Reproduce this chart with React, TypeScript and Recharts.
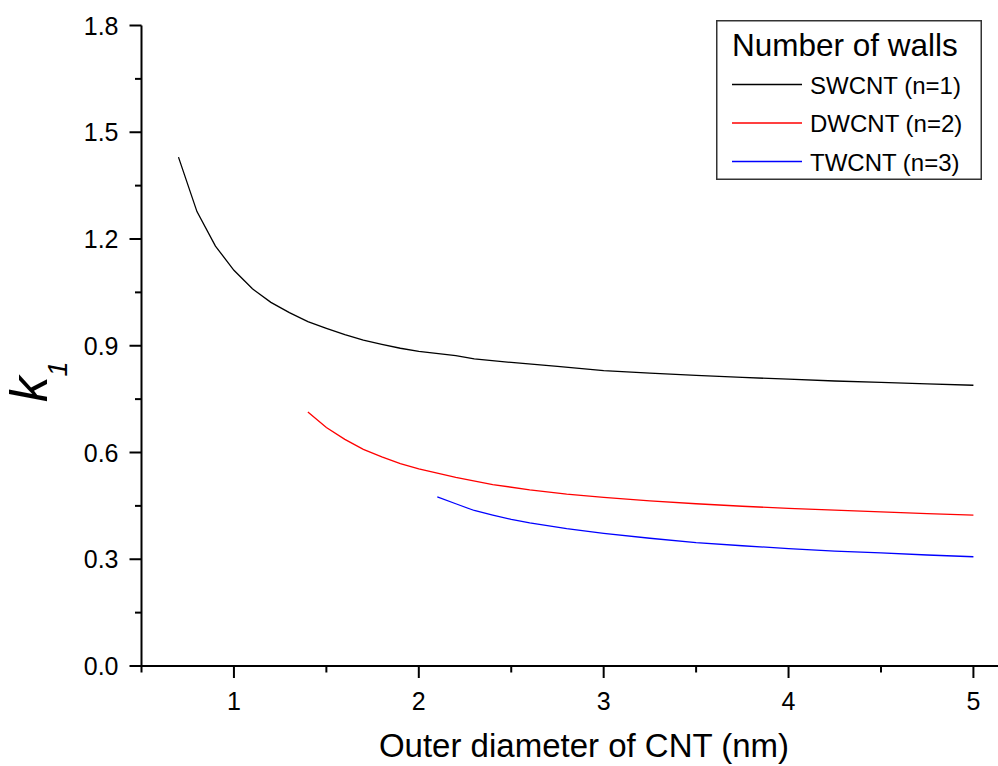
import React from 'react';
import { LineChart, Line, XAxis, YAxis, Legend } from 'recharts';

const swcntD = [0.7, 0.8, 0.9, 1.0, 1.1, 1.2, 1.3, 1.4, 1.5, 1.6, 1.7, 1.8, 1.9, 2.0, 2.2, 2.3, 2.5, 2.75, 3.0, 3.25, 3.5, 3.75, 4.0, 4.25, 4.5, 4.75, 5.0];
const swcntK = [1.43, 1.277, 1.18, 1.112, 1.06, 1.022, 0.993, 0.968, 0.949, 0.931, 0.916, 0.904, 0.893, 0.884, 0.872, 0.863, 0.853, 0.842, 0.83, 0.823, 0.817, 0.811, 0.806, 0.801, 0.797, 0.793, 0.789];

const dwcntD = [1.4, 1.5, 1.6, 1.7, 1.8, 1.9, 2.0, 2.2, 2.4, 2.6, 2.8, 3.0, 3.25, 3.5, 3.75, 4.0, 4.25, 4.5, 4.75, 5.0];
const dwcntK = [0.714, 0.67, 0.637, 0.609, 0.588, 0.569, 0.554, 0.53, 0.51, 0.495, 0.483, 0.474, 0.464, 0.456, 0.449, 0.443, 0.438, 0.433, 0.428, 0.424];

const twcntD = [2.1, 2.2, 2.3, 2.4, 2.5, 2.6, 2.8, 3.0, 3.25, 3.5, 3.75, 4.0, 4.25, 4.5, 4.75, 5.0];
const twcntK = [0.475, 0.456, 0.437, 0.424, 0.412, 0.402, 0.386, 0.373, 0.359, 0.347, 0.338, 0.33, 0.323, 0.318, 0.312, 0.307];

const xTicks = [0.5, 1, 1.5, 2, 2.5, 3, 3.5, 4, 4.5, 5];
const yTicks = [0, 0.15, 0.3, 0.45, 0.6, 0.75, 0.9, 1.05, 1.2, 1.35, 1.5, 1.65, 1.8];

const seriesNames = ['SWCNT (n=1)', 'DWCNT (n=2)', 'TWCNT (n=3)'];
const seriesColors = ['#000000', '#ff0000', '#0000ff'];
const legendTitle = 'Number of walls';
const xTitle = 'Outer diameter of CNT (nm)';

const toPoints = (d: number[], k: number[]) => d.map((x, i) => ({ x, k: k[i] }));
const swcnt = toPoints(swcntD, swcntK);
const dwcnt = toPoints(dwcntD, dwcntK);
const twcnt = toPoints(twcntD, twcntK);

const FONT = '"Liberation Sans", Arial, sans-serif';
const TICK_FS = 25;

const XTick = (props: any) => {
  const { x, y, payload } = props;
  const v = payload.value;
  const major = Math.abs(v - Math.round(v)) < 1e-6;
  return (
    <g>
      <line x1={x} x2={x} y1={y} y2={y + (major ? 12 : 6.5)} stroke="#000" strokeWidth={2} />
      {major && (
        <text x={x} y={y + 44} textAnchor="middle" fontSize={TICK_FS} fontFamily={FONT} fill="#000">
          {String(v)}
        </text>
      )}
    </g>
  );
};

const YTick = (props: any) => {
  const { x, y, payload } = props;
  const v = payload.value;
  const r = v / 0.3;
  const major = Math.abs(r - Math.round(r)) < 1e-6;
  return (
    <g>
      <line x1={x} x2={x - (major ? 12 : 6.5)} y1={y} y2={y} stroke="#000" strokeWidth={2} />
      {major && (
        <text x={x - 23} y={y + 9} textAnchor="end" fontSize={TICK_FS} fontFamily={FONT} fill="#000">
          {v.toFixed(1)}
        </text>
      )}
    </g>
  );
};

const LegendBox = (props: any) => {
  const payload = [...(props.payload || [])].sort(
    (a: any, b: any) => seriesNames.indexOf(a.value) - seriesNames.indexOf(b.value)
  );
  return (
    <svg width={266} height={160} style={{ display: 'block' }}>
      <rect x={0.75} y={0.75} width={264.5} height={158.5} fill="#fff" stroke="#333" strokeWidth={1.5} />
      <text x={16} y={36} fontSize={31.5} fontFamily={FONT} fill="#000">{legendTitle}</text>
      {payload.map((p: any, i: number) => {
        const cy = 64.5 + i * 38.5;
        return (
          <g key={i}>
            <line x1={16} x2={86} y1={cy} y2={cy} stroke={p.color} strokeWidth={1.5} />
            <text x={94} y={cy + 9} fontSize={24} fontFamily={FONT} fill="#000">{p.value}</text>
          </g>
        );
      })}
    </svg>
  );
};

const YLabel = () => (
  <text transform="translate(47, 402) rotate(-90)" fontFamily={FONT} fill="#000">
    <tspan fontSize={51} fontStyle="italic">k</tspan>
    <tspan fontSize={27} fontStyle="italic" dy={20} dx={0}>1</tspan>
  </text>
);

const XLabel = () => (
  <text x={584} y={757} textAnchor="middle" fontSize={33} fontFamily={FONT} fill="#000">
    {xTitle}
  </text>
);

export default function App() {
  return (
    <div style={{ position: 'absolute', left: 0, top: 0, width: 998, height: 766, background: '#fff' }}>
      <LineChart width={998} height={766} margin={{ top: 25.5, right: 0, bottom: 0, left: 0 }}>
        <XAxis
          type="number"
          dataKey="x"
          domain={[0.5, 5.133]}
          ticks={xTicks}
          interval={0}
          allowDataOverflow
          height={100}
          tickSize={0}
          tickMargin={0}
          tickLine={false}
          axisLine={{ stroke: '#000', strokeWidth: 2 }}
          tick={<XTick />}
          label={<XLabel />}
        />
        <YAxis
          type="number"
          domain={[0, 1.8]}
          ticks={yTicks}
          interval={0}
          allowDataOverflow
          width={141.5}
          tickSize={0}
          tickMargin={0}
          tickLine={false}
          axisLine={{ stroke: '#000', strokeWidth: 2 }}
          tick={<YTick />}
          label={<YLabel />}
        />
        <Legend
          layout="vertical"
          align="center"
          verticalAlign="middle"
          content={<LegendBox />}
          wrapperStyle={{ position: 'absolute', left: 716, top: 20, width: 266, height: 160 }}
        />
        <Line data={swcnt} dataKey="k" name={seriesNames[0]} stroke={seriesColors[0]} strokeWidth={1.3} dot={false} activeDot={false} type="linear" isAnimationActive={false} />
        <Line data={dwcnt} dataKey="k" name={seriesNames[1]} stroke={seriesColors[1]} strokeWidth={1.3} dot={false} activeDot={false} type="linear" isAnimationActive={false} />
        <Line data={twcnt} dataKey="k" name={seriesNames[2]} stroke={seriesColors[2]} strokeWidth={1.3} dot={false} activeDot={false} type="linear" isAnimationActive={false} />
      </LineChart>
    </div>
  );
}
